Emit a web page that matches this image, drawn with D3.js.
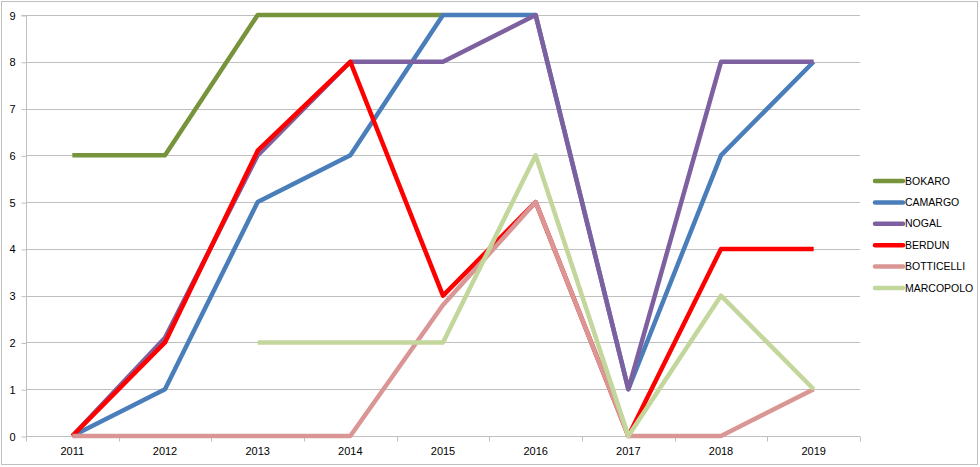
<!DOCTYPE html>
<html><head><meta charset="utf-8">
<script src="https://cdn.jsdelivr.net/npm/d3@7"></script>
<style>body{margin:0;background:#fff}svg{display:block}</style>
</head><body>
<svg id="c" width="980" height="467"></svg>
<script>
const years = ["2011","2012","2013","2014","2015","2016","2017","2018","2019"];
const yTicks = [0,1,2,3,4,5,6,7,8,9];
const seriesNames = ["BOKARO","CAMARGO","NOGAL","BERDUN","BOTTICELLI","MARCOPOLO"];
const seriesColors = ["#77933C","#4A7EBB","#7D60A0","#FF0000","#D99694","#C3D69B"];
const bokaro     = [6,6,9,9,9,null,null,null,null];
const camargo    = [0,1,5,6,9,9,1,6,8];
const nogal      = [0,2.1,6,8,8,9,1,8,8];
const berdun     = [0,2,6.1,8,3,5,0,4,4];
const botticelli = [0,0,0,0,2.8,5,0,0,1];
const marcopolo  = [null,null,2,2,2,6,0,3,1];
const seriesValues = [bokaro,camargo,nogal,berdun,botticelli,marcopolo];

const svg = d3.select("#c");
const font = "'Liberation Sans', Arial, sans-serif";
svg.append("rect").attr("x",1.5).attr("y",1.5).attr("width",976).attr("height",463)
  .attr("fill","#fff").attr("stroke","#BFBFBF");

const L=26, R=860, T=15, B=436;
const x = d3.scaleBand().domain(years).range([L,R]);
const y = d3.scaleLinear().domain([0,9]).range([B,T]);

// gridlines
svg.append("g").selectAll("line").data(yTicks.filter(d=>d>0)).join("line")
  .attr("x1",L).attr("x2",R).attr("y1",d=>Math.round(y(d))+0.5).attr("y2",d=>Math.round(y(d))+0.5)
  .attr("stroke","#BFBFBF").attr("stroke-width",1);

// y axis
const ya = svg.append("g").attr("transform",`translate(${L+0.5},0.5)`)
  .call(d3.axisLeft(y).tickValues(yTicks).tickSize(5).tickPadding(6).tickFormat(d3.format("d")));
ya.select(".domain").attr("stroke","#BFBFBF").attr("d",`M-5,${Math.round(T)}H0V${Math.round(B)}`);
ya.selectAll(".tick line").attr("stroke","#BFBFBF");
ya.selectAll("text").attr("font-family",font).attr("font-size",11).attr("fill","#000");

// x axis
const xa = svg.append("g").attr("transform",`translate(0,${Math.round(B)+0.5})`)
  .call(d3.axisBottom(x).tickSize(0).tickPadding(11));
xa.select(".domain").attr("stroke","#BFBFBF").attr("d",`M${L},0H${R}`);
xa.selectAll("text").attr("font-family",font).attr("font-size",11).attr("fill","#000");
const bounds = years.map(d=>x(d)).concat([R]);
xa.append("g").selectAll("line").data(bounds).join("line")
  .attr("x1",d=>Math.round(d)+0.5).attr("x2",d=>Math.round(d)+0.5).attr("y1",0).attr("y2",5)
  .attr("stroke","#BFBFBF");

// lines
const line = d3.line()
  .defined(d=>d.v!=null)
  .x(d=>x(d.k)+x.bandwidth()/2)
  .y(d=>y(d.v));
seriesValues.forEach((vals,i)=>{
  svg.append("path")
    .datum(vals.map((v,j)=>({k:years[j],v})))
    .attr("fill","none").attr("stroke",seriesColors[i]).attr("stroke-width",4.5)
    .attr("stroke-linejoin","round").attr("stroke-linecap","butt")
    .attr("d",line);
});

// legend
const lg = svg.append("g");
seriesNames.forEach((n,i)=>{
  const yy = 181 + i*21.4;
  lg.append("line").attr("x1",875).attr("x2",903).attr("y1",yy).attr("y2",yy)
    .attr("stroke",seriesColors[i]).attr("stroke-width",4.5).attr("stroke-linecap","round");
  lg.append("text").attr("x",905).attr("y",yy).attr("dy","0.35em")
    .attr("font-family",font).attr("font-size",10.5).attr("fill","#000").text(n);
});
</script>
</body></html>
